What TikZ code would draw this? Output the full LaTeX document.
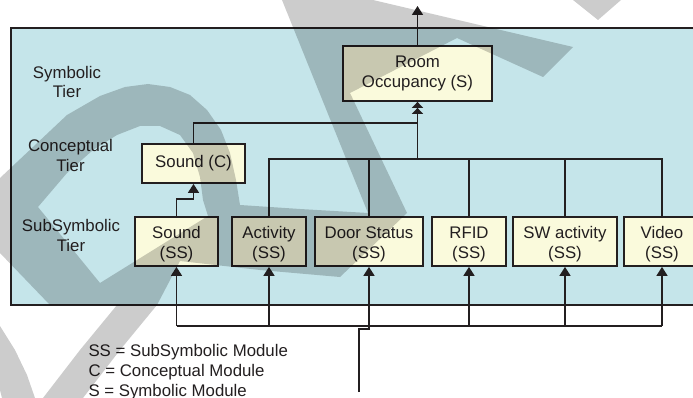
\documentclass[tikz,border=0pt]{standalone}
\usepackage{fontspec}
\setmainfont{Liberation Sans}
\usetikzlibrary{arrows.meta}
\definecolor{tealbg}{HTML}{C5E5EA}
\definecolor{boxfill}{HTML}{FAFADC}
\definecolor{ink}{HTML}{231F20}
\newcommand{\padtop}{\rule{0pt}{17pt}}
\begin{document}
\begin{tikzpicture}[x=1pt,y=-1pt,
  font=\fontsize{16.8}{19.5}\selectfont,
  box/.style={draw=ink, line width=1.8pt, fill=boxfill, text=ink, align=center, inner sep=0pt},
  ssbox/.style={box, minimum height=49pt},
  conn/.style={draw=ink, line width=1.6pt},
  arr/.style={conn, -{Triangle[width=11pt,length=9pt]}},
  arrtwo/.style={conn, -{Triangle[width=11pt,length=6pt]Triangle[width=11pt,length=6pt]}},
  lbl/.style={text=ink, align=center},
  wm/.style={fill=black, fill opacity=0.2}]
\useasboundingbox (0,0) rectangle (693,398);
\clip (0,0) rectangle (693,398);

% frame
\draw[draw=ink, line width=1.4pt, fill=tealbg] (11,28) rectangle (712,305);

% tier labels
\node[lbl] (symtier) at (67,82) {Symbolic\\Tier};
\node[lbl] (contier) at (70.5,155.5) {Conceptual\\Tier};
\node[lbl] (subtier) at (71,235.5) {SubSymbolic\\Tier};

% boxes
\node[box, minimum width=149pt, minimum height=55pt] (room) at (417.5,73.5) {Room\\Occupancy (S)};
\node[box, minimum width=103pt, minimum height=39pt] (sc) at (193.5,163.5) {Sound (C)};
\node[ssbox, minimum width=83pt]  (sss)  at (176.5,241.5) {\padtop Sound\\(SS)};
\node[ssbox, minimum width=74pt]  (act)  at (269,241.5)   {\padtop Activity\\(SS)};
\node[ssbox, minimum width=108pt] (door) at (369,241.5)   {\padtop Door Status\\(SS)};
\node[ssbox, minimum width=74pt]  (rfid) at (469,241.5)   {\padtop RFID\\(SS)};
\node[ssbox, minimum width=104pt] (sw)   at (565,241.5)   {\padtop SW activity\\(SS)};
\node[ssbox, minimum width=76pt]  (vid)  at (662,241.5)   {\padtop Video\\(SS)};

% coordinates
\coordinate (out) at (417.5,6);
\coordinate (upbar) at (417.5,123);
\coordinate (lowbar) at (417.5,159);
\coordinate (bus) at (176.5,326);
\coordinate (kink) at (369,329);
\coordinate (in) at (359,392);

% upward connections
\draw[arr] (room.north) -- (out);
\draw[conn] (sc.north) |- (upbar);
\draw[arrtwo] (lowbar) -- (room.south);
\draw[conn] (act.north) |- (lowbar) -- (vid.north |- lowbar) -- (vid.north);
\foreach \n in {door,rfid,sw} \draw[conn] (\n.north) -- (\n.north |- lowbar);
\draw[arr] (sss.north) -- ++(0,-17) -| (sc.south);

% bus
\draw[conn] (sss.south |- bus) -- (vid.south |- bus);
\foreach \n in {sss,act,door,rfid,sw,vid} \draw[arr] (\n.south |- bus) -- (\n.south);
\draw[conn] (in) |- (kink) -- (door.south |- bus);

% legend
\node[text=ink, align=left, anchor=base west, font=\fontsize{16.8}{20}\selectfont] (legend) at (85,396)
  {SS = SubSymbolic Module\\C = Conceptual Module\\S = Symbolic Module};

% watermark
\fill[wm, even odd rule]
  (0,178) -- (33,147) -- (67,115) -- (100,96) -- (125,87) -- (148,84) -- (170,87)
  -- (190,95) -- (207,110) -- (221,130) -- (230,153) -- (236,180) -- (240,205)
  -- (300,209) -- (368,213) -- (282,0) -- (373,0) -- (573,47) -- (543,77)
  -- (457,38) -- (350,93) -- (407,213) -- (340,277) -- (260,270) -- (180,261)
  -- (157,305) -- (120,350) -- (83,398) -- (43,398) -- (80,350) -- (117,305)
  -- (50,305) -- (0,253) -- cycle
  (38,207) -- (67,173) -- (93,150) -- (117,135) -- (140,126) -- (160,126)
  -- (180,135) -- (193,153) -- (200,177) -- (203,200) -- (208,216) -- (100,283) -- cycle;
\fill[wm] (573,0) -- (621,0) -- (598,20) -- cycle;
\fill[wm] (0,326) -- (15,350) -- (27,375) -- (35,398) -- (2,398) -- (0,390) -- cycle;
\end{tikzpicture}
\end{document}
